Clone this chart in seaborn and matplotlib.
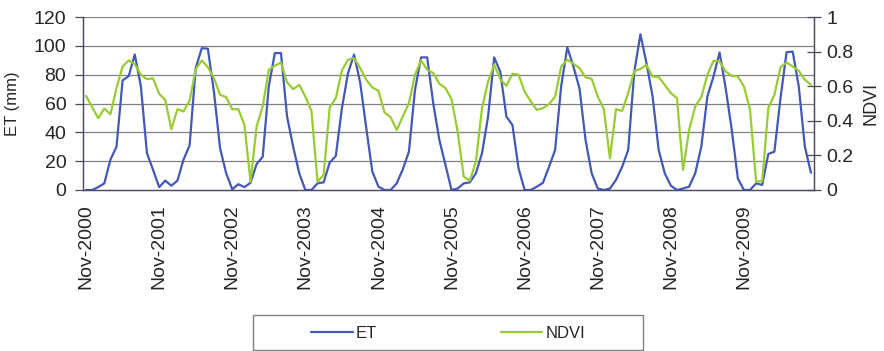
"""
Monthly ET and NDVI, Nov-2000 to Oct-2010 (dual axis line chart)
"""

import matplotlib
matplotlib.use('Agg')
import matplotlib.pyplot as plt
from matplotlib.lines import Line2D
from matplotlib.patches import Rectangle
import numpy as np
import pandas as pd
import seaborn as sns


# ET (mm), one value per month starting Nov-2000
et_values = [
    0, 0, 2, 4.6, 21, 30, 76, 79, 94, 72, 25.5, 14,
    2, 6.5, 3, 6.5, 21, 31, 84.5, 98.4, 98, 68, 29, 11.6,
    0.5, 4, 2, 5, 18, 23, 72, 95, 95, 51, 30, 11.6,
    0, 0, 4.6, 5.3, 19, 23.6, 56.7, 81, 94, 74.6, 43, 12.7,
    2.3, 0, 0, 4.6, 14.4, 26.6, 69.5, 92, 92, 60, 34.7, 17.4,
    0, 1, 4.6, 5.3, 11.6, 25.5, 51, 92, 82, 51, 45, 15,
    0, 0, 2.3, 5, 16, 27.8, 72, 99, 85.7, 70.6, 34.7, 11.6,
    1, 0, 1, 7, 16, 27.8, 82, 108, 88, 65, 27.8, 11.6,
    3, 0, 1, 2.3, 11.6, 30, 65, 78.7, 95.4, 70.6, 41.7, 8,
    0, 0, 4.6, 3.5, 25, 26.6, 63.7, 95.6, 96, 71.8, 30, 12,
]

# NDVI, same months
ndvi_values = [
    0.544, 0.479, 0.415, 0.471, 0.438, 0.589, 0.714, 0.749, 0.728, 0.666, 0.641, 0.645,
    0.556, 0.521, 0.351, 0.467, 0.454, 0.515, 0.699, 0.749, 0.710, 0.647, 0.550, 0.537,
    0.467, 0.467, 0.376, 0.048, 0.367, 0.483, 0.695, 0.718, 0.737, 0.622, 0.583, 0.608,
    0.540, 0.457, 0.048, 0.087, 0.477, 0.531, 0.691, 0.753, 0.763, 0.705, 0.637, 0.593,
    0.573, 0.448, 0.421, 0.347, 0.425, 0.502, 0.666, 0.749, 0.695, 0.676, 0.614, 0.589,
    0.525, 0.338, 0.077, 0.054, 0.164, 0.473, 0.627, 0.724, 0.641, 0.602, 0.672, 0.666,
    0.569, 0.512, 0.463, 0.473, 0.496, 0.540, 0.714, 0.753, 0.730, 0.705, 0.651, 0.643,
    0.540, 0.467, 0.183, 0.467, 0.457, 0.560, 0.689, 0.699, 0.724, 0.656, 0.653, 0.608,
    0.560, 0.531, 0.116, 0.347, 0.483, 0.537, 0.666, 0.747, 0.743, 0.685, 0.660, 0.656,
    0.598, 0.463, 0.048, 0.052, 0.473, 0.550, 0.710, 0.737, 0.714, 0.689, 0.637, 0.608,
]

year_labels = ['Nov-2000', 'Nov-2001', 'Nov-2002', 'Nov-2003', 'Nov-2004',
               'Nov-2005', 'Nov-2006', 'Nov-2007', 'Nov-2008', 'Nov-2009']

ET_COLOR = '#4458B8'
NDVI_COLOR = '#99CC33'
GRID_COLOR = '#808080'
AXIS_COLOR = '#4a4a66'

df = pd.DataFrame({
    'month': np.arange(len(et_values)),
    'ET': et_values,
    'NDVI': ndvi_values,
})

sns.set_style('white')
plt.rcParams['font.family'] = ['Liberation Sans', 'DejaVu Sans']

fig = plt.figure(figsize=(8.84, 3.51), dpi=100)
ax = fig.add_axes([83 / 884, 1 - 190 / 351, (814 - 83) / 884, (190 - 17) / 351])
ax2 = ax.twinx()

sns.lineplot(data=df, x='month', y='ET', ax=ax, color=ET_COLOR, linewidth=1.6)
sns.lineplot(data=df, x='month', y='NDVI', ax=ax2, color=NDVI_COLOR, linewidth=1.6)

n = len(df)
ax.set_xlim(-0.5, n - 0.5)
ax.set_ylim(0, 120)
ax2.set_ylim(0, 1)

# gridlines on the ET axis
ax.set_yticks(np.arange(0, 121, 20))
for v in np.arange(20, 121, 20):
    ax.axhline(v, color=GRID_COLOR, linewidth=0.9, zorder=0)

ax2.set_yticks([0, 0.2, 0.4, 0.6, 0.8, 1.0])
ax2.set_yticklabels(['0', '0.2', '0.4', '0.6', '0.8', '1'])

# tick marks between categories, labels under the first month of each year
ax.set_xticks(np.arange(0, n + 1, 12) - 0.5)
ax.set_xticklabels([])
ax.set_xticks(np.arange(0, n, 12), minor=True)
ax.set_xticklabels(year_labels, minor=True, rotation=90, fontsize=14)
ax.tick_params(axis='x', which='minor', length=0, pad=10)
ax.tick_params(axis='x', which='major', length=5, width=0.9, color=AXIS_COLOR, direction='out')
ax.tick_params(axis='y', length=6, width=0.9, color=AXIS_COLOR, direction='out', labelsize=14, pad=6)
ax2.tick_params(axis='y', length=10, width=0.9, color=AXIS_COLOR, direction='inout', labelsize=14, pad=4)

ax.set_xlabel('')
ax.set_ylabel('ET (mm)', fontsize=12, labelpad=10)
ax2.set_ylabel('NDVI', fontsize=13, labelpad=6)

for a in (ax, ax2):
    a.spines['top'].set_visible(False)
    for side in ('left', 'right', 'bottom'):
        a.spines[side].set_color(AXIS_COLOR)
        a.spines[side].set_linewidth(0.9)

# legend below the chart with its own frame
fig.add_artist(Rectangle((253 / 884, 1 - 350 / 351), 390 / 884, 35 / 351,
                         transform=fig.transFigure, fill=False,
                         edgecolor='#808080', linewidth=1.0))
handles = [Line2D([], [], color=ET_COLOR, linewidth=1.6),
           Line2D([], [], color=NDVI_COLOR, linewidth=1.6)]
fig.legend(handles, ['ET', 'NDVI'], ncol=2, frameon=False, fontsize=12,
           loc='center left', bbox_to_anchor=(296 / 884, 1 - 333 / 351),
           handlelength=2.5, handletextpad=0.2, columnspacing=7.4)

fig.savefig('out.png', dpi=100)
plt.close(fig)
